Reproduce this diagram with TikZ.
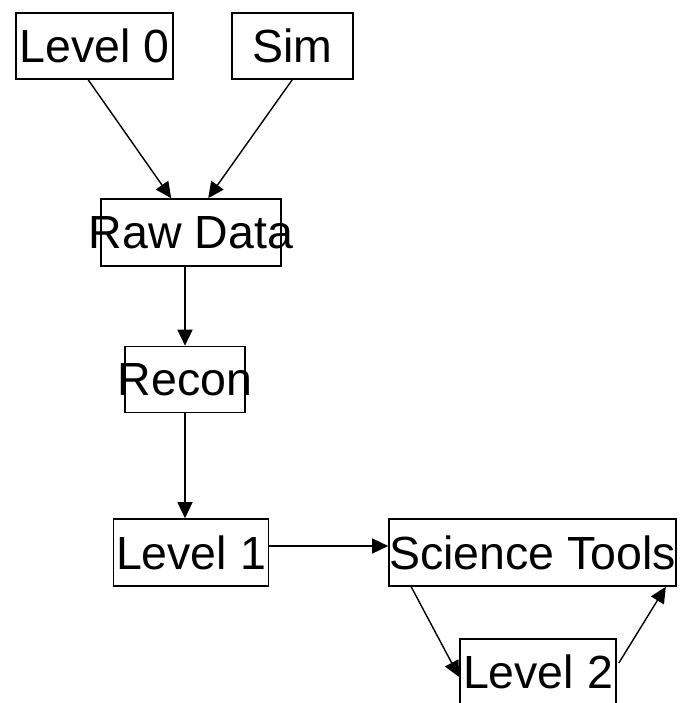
\documentclass[tikz,border=0pt]{standalone}
\usepackage{fontspec}
\setmainfont{Liberation Sans}
\usetikzlibrary{arrows.meta}
\begin{document}
\begin{tikzpicture}[x=1pt,y=1pt,
  box/.style={draw,line width=1.6pt,inner sep=0pt,anchor=center,
    font=\fontsize{46.5}{56}\selectfont},
  arr/.style={line width=1.4pt,-{Triangle[length=16pt,width=15pt]}}]
\useasboundingbox (0,0) rectangle (681,-703);
\node[box,minimum width=157pt,minimum height=66pt] (l0) at (94.5,-46) {\makebox[0pt][c]{Level 0}};
\node[box,minimum width=121pt,minimum height=66pt] (sim) at (292.5,-46) {\makebox[0pt][c]{Sim}};
\node[box,minimum width=180pt,minimum height=67pt] (raw) at (191,-232.5) {\makebox[0pt][c]{Raw Data}};
\node[box,minimum width=120pt,minimum height=66pt] (rec) at (185,-379.5) {\makebox[0pt][c]{Recon}};
\node[box,minimum width=155pt,minimum height=67pt] (l1) at (191,-552.5) {\makebox[0pt][c]{Level 1}};
\node[box,minimum width=287pt,minimum height=67pt] (st) at (532.5,-552.5) {\makebox[0pt][c]{Science Tools}};
\node[box,minimum width=156pt,minimum height=66pt] (l2) at (538,-672) {\makebox[0pt][c]{Level 2}};
\draw[arr] ([xshift=73pt]l0.south west) -- ([xshift=71pt]raw.north west);
\draw[arr] ([xshift=61pt]sim.south west) -- ([xshift=108pt]raw.north west);
\draw[arr] (rec.north |- raw.south) -- (rec.north);
\draw[arr] (rec.south) -- (rec.south |- l1.north);
\draw[arr] ([yshift=6.5pt]l1.east) -- ([yshift=6.5pt]st.west);
\draw[arr] ([xshift=23pt]st.south west) -- ([yshift=-5pt]l2.west);
\draw[arr] ([xshift=2pt,yshift=9pt]l2.east) -- ([xshift=-11pt]st.south east);
\end{tikzpicture}
\end{document}
